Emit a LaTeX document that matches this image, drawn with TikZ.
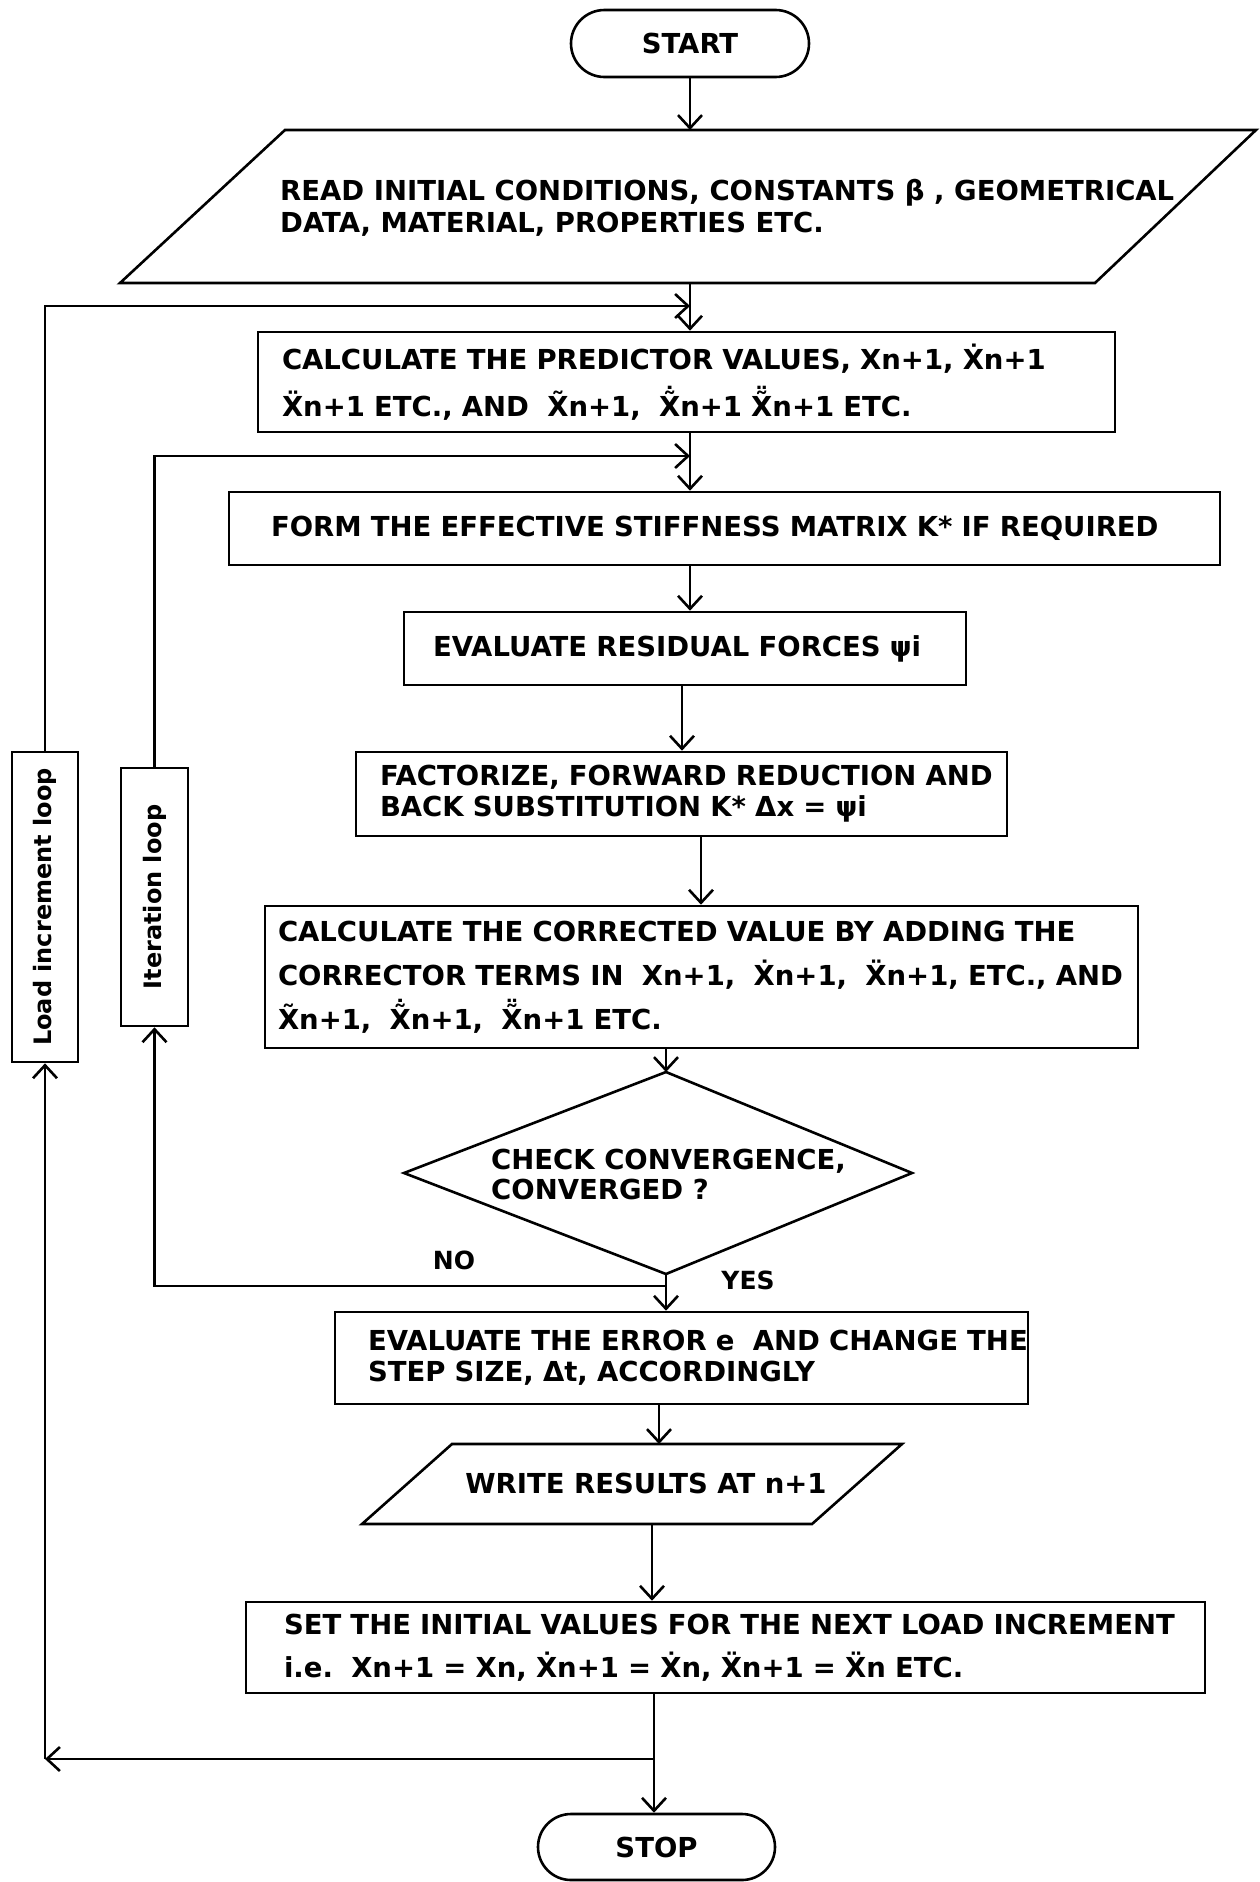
\documentclass[tikz,border=0pt]{standalone}
\usepackage{fontspec}
\usepackage{graphicx}
\setmainfont{DejaVu Sans}
\usetikzlibrary{arrows.meta,shapes.misc}
\newcommand\Xd{X^^^^0307}
\newcommand\Xdd{X^^^^0308}
\newcommand\Xt{X^^^^0303}
\newcommand\stackmark[2]{\leavevmode\setbox0\hbox{X^^^^0303}\rlap{\hbox to \wd0{\hss\raisebox{#2}{#1}\hss}}\box0}
\newcommand\Xtd{\stackmark{^^^^02d9}{9pt}}
\newcommand\Xtdd{\stackmark{^^^^00a8}{9pt}}
\newcommand\boxmargin[1]{\parindent=0pt\leftskip=#1\relax\rightskip=0pt plus 1fil\relax}
\begin{document}
\begin{tikzpicture}[x=1pt,y=-1pt,
  font=\bfseries\fontsize{27.5}{32}\selectfont,
  ln/.style={line width=2.6pt},
  arr/.style={line width=2.6pt,-{Straight Barb[length=13pt,width=24pt]}},
  box/.style={draw,line width=2.6pt,inner xsep=0pt,inner ysep=0pt},
  term/.style={draw,line width=2.6pt,rounded rectangle,inner sep=0pt},
  txt/.style={inner sep=0pt,align=left}]
\useasboundingbox (0,0) rectangle (1260,1882);

% axis helpers
\coordinate (k0) at (690,0);
\coordinate (k1) at (682,0);
\coordinate (k2) at (701,0);
\coordinate (k6) at (666,0);
\coordinate (k3) at (659,0);
\coordinate (k4) at (652,0);
\coordinate (k5) at (654,0);
\coordinate (j1) at (690,306);
\coordinate (j2) at (690,456);
\coordinate (b1) at (666,1286);
\coordinate (b2) at (654,1759);
\coordinate (c2) at (45,1759);

% START
\node[term,minimum width=238pt,minimum height=67pt] (start) at (690,43.5) {START};

% READ parallelogram
\draw[ln] (285,130) -- (1256,130) -- (1095,283) -- (120,283) -- cycle;
\coordinate (readT) at (690,130);
\coordinate (readB) at (690,283);
\node[txt,anchor=west] (read) at (280,208) {READ INITIAL CONDITIONS, CONSTANTS β , GEOMETRICAL\\DATA, MATERIAL, PROPERTIES ETC.};

% predictor
\node[box,minimum height=100pt,text width=857pt,font=\bfseries\fontsize{27.5}{47}\selectfont] (pred) at (686.5,382)
 {\boxmargin{24pt}CALCULATE THE PREDICTOR VALUES, Xn+1, \Xd n+1\par\Xdd n+1 ETC., AND~~\Xt n+1,~~\Xtd n+1 \Xtdd n+1 ETC.\par};

% stiffness
\node[box,minimum height=73pt,text width=991pt] (stiff) at (724.5,528.5)
 {\boxmargin{42pt}FORM THE EFFECTIVE STIFFNESS MATRIX K* IF REQUIRED\par};

% residual
\node[box,minimum height=73pt,text width=562pt] (resid) at (685,648.5)
 {\boxmargin{29pt}EVALUATE RESIDUAL FORCES ψi\par};

% factorize
\node[box,minimum height=84pt,text width=651pt,font=\bfseries\fontsize{27.5}{31}\selectfont] (fact) at (681.5,794)
 {\boxmargin{24pt}FACTORIZE, FORWARD REDUCTION AND\par BACK SUBSTITUTION K* Δx = ψi\par};

% corrected
\node[box,minimum height=142pt,text width=873pt,font=\bfseries\fontsize{27.5}{44}\selectfont] (corr) at (701.5,977)
 {\boxmargin{13pt}CALCULATE THE CORRECTED VALUE BY ADDING THE\par CORRECTOR TERMS IN~~Xn+1,~~\Xd n+1,~~\Xdd n+1, ETC., AND\par\Xt n+1,~~\Xtd n+1,~~\Xtdd n+1 ETC.\par};

% diamond
\draw[ln] (666,1072) -- (912,1173) -- (666,1274) -- (404,1173) -- cycle;
\coordinate (dT) at (666,1072);
\coordinate (dB) at (666,1274);
\node[txt,anchor=west,font=\bfseries\fontsize{27.5}{30}\selectfont] (dia) at (491,1174) {CHECK CONVERGENCE,\\CONVERGED ?};
\node[txt,font=\bfseries\fontsize{25}{25}\selectfont] (no) at (454,1260) {NO};
\node[txt,font=\bfseries\fontsize{25}{25}\selectfont] (yes) at (748,1280) {YES};

% error
\node[box,minimum height=92pt,text width=693pt,font=\bfseries\fontsize{27.5}{31}\selectfont] (err) at (681.5,1358)
 {\boxmargin{33pt}EVALUATE THE ERROR e~~AND CHANGE THE\par STEP SIZE, Δt, ACCORDINGLY\par};

% write parallelogram
\draw[ln] (452,1444) -- (902,1444) -- (812,1524) -- (362,1524) -- cycle;
\coordinate (writeT) at (659,1444);
\coordinate (writeB) at (652,1524);
\node[txt] (write) at (646,1483) {WRITE RESULTS AT n+1};

% set
\node[box,minimum height=91pt,text width=959pt,font=\bfseries\fontsize{27.5}{43}\selectfont] (set) at (725.5,1647.5)
 {\boxmargin{38pt}SET THE INITIAL VALUES FOR THE NEXT LOAD INCREMENT\par i.e.~~Xn+1 = Xn, \Xd n+1 = \Xd n, \Xdd n+1 = \Xdd n ETC.\par};

% STOP
\node[term,minimum width=237pt,minimum height=66pt] (stop) at (656.5,1847) {STOP};

% loop boxes
\node[box,minimum width=66pt,minimum height=310pt,font=\bfseries\fontsize{24}{24}\selectfont] (load) at (45,907) {\rotatebox{90}{Load increment loop}};
\node[box,minimum width=67pt,minimum height=258pt,font=\bfseries\fontsize{24}{24}\selectfont] (iter) at (154.5,897) {\rotatebox{90}{Iteration loop}};

% connectors
\draw[arr] (start.south) -- (readT);
\draw[arr] (readB) -- (pred.north -| k0);
\draw[arr] (load.north) |- (j1);
\draw[arr] (pred.south -| k0) -- (stiff.north -| k0);
\draw[arr] (iter.north) |- (j2);
\draw[arr] (stiff.south -| k0) -- (resid.north -| k0);
\draw[arr] (resid.south -| k1) -- (fact.north -| k1);
\draw[arr] (fact.south -| k2) -- (corr.north -| k2);
\draw[arr] (corr.south -| k6) -- (dT);
\draw[arr] (dB) -- (err.north -| k6);
\draw[arr] (b1) -| (iter.south);
\draw[arr] (err.south -| k3) -- (writeT);
\draw[arr] (writeB) -- (set.north -| k4);
\draw[arr] (set.south -| k5) -- (stop.north -| k5);
\draw[arr] (b2) -- (c2);
\draw[arr] (c2) -- (load.south);
\end{tikzpicture}
\end{document}
